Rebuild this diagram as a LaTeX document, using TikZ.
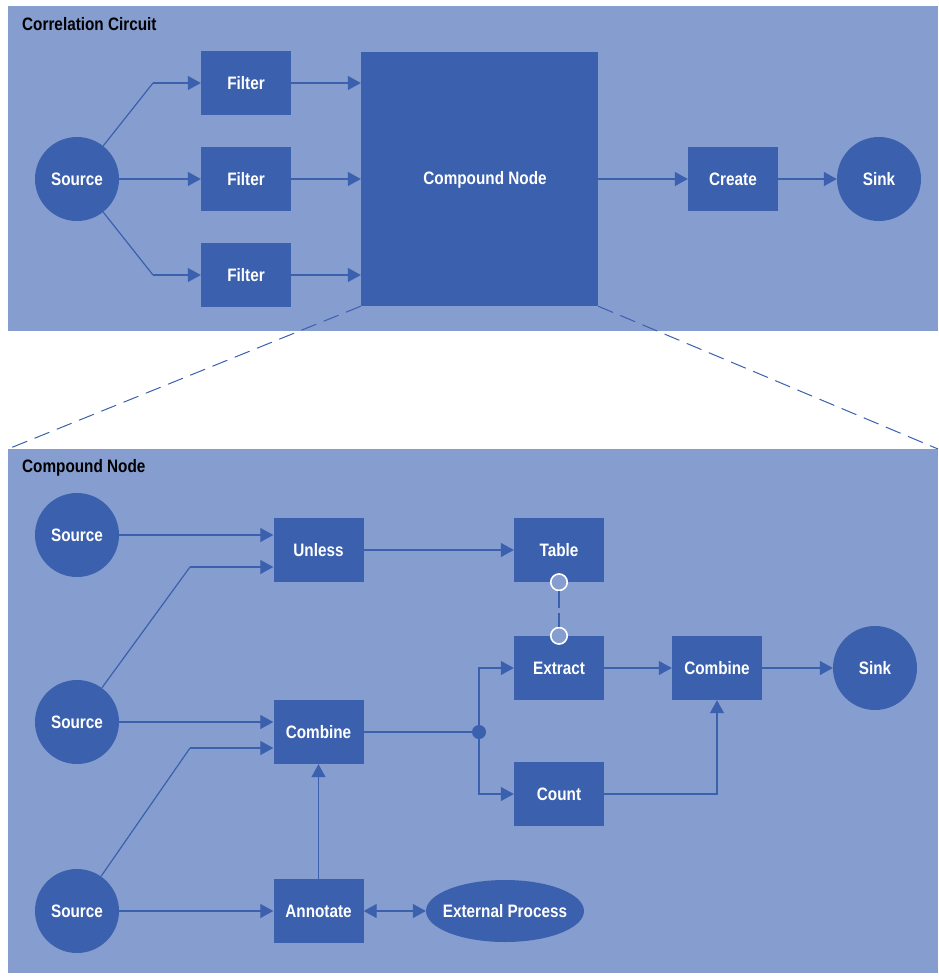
\documentclass[tikz,border=0pt]{standalone}
\usepackage{fontspec}
\setmainfont{Liberation Sans}[FakeStretch=0.85]
\usetikzlibrary{arrows.meta,shapes.geometric}
\definecolor{panel}{HTML}{869DCF}
\definecolor{dk}{HTML}{3A60AE}
\newcommand{\lblfont}{\fontsize{18}{21}\selectfont\bfseries}
\begin{document}
\begin{tikzpicture}[x=1pt,y=-1pt,
  box/.style={rectangle, fill=dk, minimum width=90pt, minimum height=64pt, inner sep=0pt, text=white, font=\lblfont},
  circ/.style={circle, fill=dk, minimum size=84pt, inner sep=0pt, text=white, font=\lblfont},
  title/.style={anchor=west, inner sep=0pt, text=black, font=\lblfont},
  link/.style={draw=dk, line width=1.2pt, -{Triangle[length=13pt,width=14pt]}},
  plain/.style={draw=dk, line width=1.2pt},
  zoomline/.style={draw=dk, line width=1pt, dash pattern=on 16pt off 8pt},
  port/.style={circle, draw=white, line width=1.6pt, fill=panel, minimum size=16.5pt, inner sep=0pt}]
\useasboundingbox (0,0) rectangle (938,977);

% panels
\fill[panel] (8,6) rectangle (938,331);
\fill[panel] (8,449) rectangle (938,973);

% ---------- Correlation Circuit ----------
\node[title] (t1) at (22,24) {Correlation Circuit};
\node[circ] (src) at (77,179) {Source};
\node[box] (f1) at (246,83) {Filter};
\node[box] (f2) at (246,179) {Filter};
\node[box] (f3) at (246,275) {Filter};
\node[rectangle, fill=dk, minimum width=237pt, minimum height=254pt, inner sep=0pt] (cn) at (479.5,179) {};
\node[text=white, font=\lblfont, inner sep=0pt] (cnlabel) at (485,180) {Compound Node};
\node[box] (cr) at (733,179) {Create};
\node[circ] (snk) at (879,179) {Sink};

\coordinate (b1) at (153,83);
\coordinate (b3) at (153,275);
\draw[plain] (src) -- (b1);
\draw[link] (b1) -- (f1);
\draw[link] (src) -- (f2);
\draw[plain] (src) -- (b3);
\draw[link] (b3) -- (f3);
\draw[link] (f1) -- (f1 -| cn.west);
\draw[link] (f2) -- (cn);
\draw[link] (f3) -- (f3 -| cn.west);
\draw[link] (cn) -- (cr);
\draw[link] (cr) -- (snk);

% zoom-out guide lines
\coordinate (pl) at (8,449);
\coordinate (pr) at (938,449);
\draw[zoomline] (cn.south west) -- (pl);
\draw[zoomline] (cn.south east) -- (pr);

% ---------- Compound Node ----------
\node[title] (t2) at (22,468) {Compound Node};
\node[circ] (s1) at (77,535) {Source};
\node[circ] (s2) at (77,722) {Source};
\node[circ] (s3) at (77,911) {Source};
\node[box] (un) at (318.5,550) {Unless};
\node[box] (cb1) at (318.5,732) {Combine};
\node[box] (an) at (318.5,911) {Annotate};
\node[ellipse, fill=dk, minimum width=158pt, minimum height=62pt, inner sep=0pt, text=white, font=\lblfont] (ext) at (505,911) {\makebox[0pt]{External Process}};
\node[box] (tb) at (559,550) {Table};
\node[box] (ex) at (559,668) {Extract};
\node[box] (ct) at (559,794) {Count};
\node[box] (cb2) at (717,668) {Combine};
\node[circ] (s4) at (875,668) {Sink};

\coordinate (k2) at (190,567);
\coordinate (k3) at (190,748);
\coordinate (jn) at (479,732);

\draw[link] (s1) -- (s1 -| un.west);
\draw[plain] (s2) -- (k2);
\draw[link] (k2) -- (k2 -| un.west);
\draw[link] (s2) -- (s2 -| cb1.west);
\draw[plain] (s3) -- (k3);
\draw[link] (k3) -- (k3 -| cb1.west);
\draw[link] (s3) -- (an);
\draw[link] (an) -- (cb1);
\draw[draw=dk, line width=1.2pt, {Triangle[length=13pt,width=14pt]}-{Triangle[length=13pt,width=14pt]}] (an) -- (ext);
\draw[link] (un) -- (tb);
\draw[plain] (cb1) -- (jn);
\draw[link] (jn) |- (ex);
\draw[link] (jn) |- (ct);
\fill[dk] (jn) circle (7pt);
\draw[link] (ex) -- (cb2);
\draw[link] (ct) -| (cb2);
\draw[link] (cb2) -- (s4);

% table / extract port link
\node[port] (p1) at (tb.south) {};
\node[port] (p2) at (ex.north) {};
\draw[draw=dk, line width=1.2pt, dash pattern=on 17pt off 5pt] (p1) -- (p2);
\end{tikzpicture}
\end{document}
